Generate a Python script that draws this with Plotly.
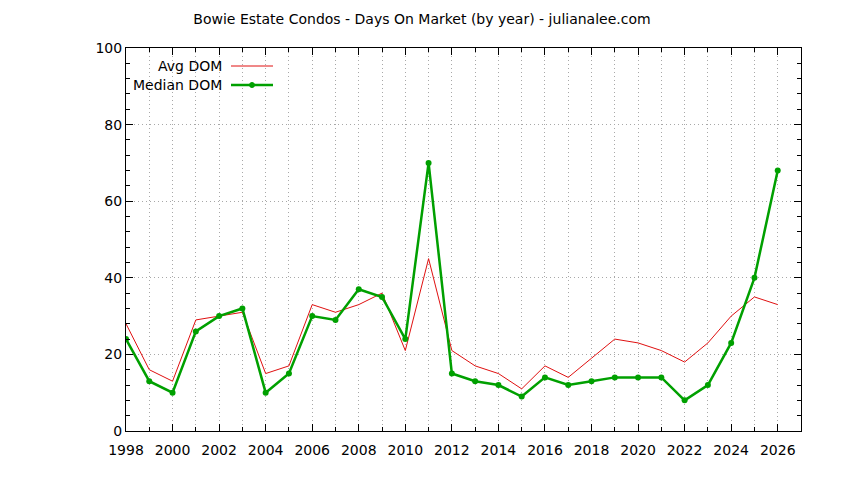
import plotly.graph_objects as go

years = list(range(1998, 2027))
avg_dom = [28, 16, 13, 29, 30, 31, 15, 17, 33, 31, 33, 36, 21, 45, 21, 17, 15, 11,
           17, 14, 19, 24, 23, 21, 18, 23, 30, 35, 33]
median_dom = [24, 13, 10, 26, 30, 32, 10, 15, 30, 29, 37, 35, 24, 70, 15, 13, 12, 9,
              14, 12, 13, 14, 14, 14, 8, 12, 23, 40, 68]

title = "Bowie Estate Condos - Days On Market (by year) - julianalee.com"
font = dict(family="DejaVu Sans", size=14, color="black")
red = "#e01010"
green = "#00a000"
gridcol = "#a8a8a8"

fig = go.Figure()
fig.add_trace(go.Scatter(x=years, y=avg_dom, mode="lines", name="Avg DOM",
                         line=dict(color=red, width=1)))
fig.add_trace(go.Scatter(x=years, y=median_dom, mode="lines+markers", name="Median DOM",
                         line=dict(color=green, width=2.5),
                         marker=dict(color=green, size=6)))

# gnuplot-style legend: text on the left, sample on the right
for i, (lab, col, w, mk) in enumerate([("Avg DOM", red, 1, False),
                                        ("Median DOM", green, 2.5, True)]):
    yy = 66 + 19 * i
    fig.add_annotation(text=lab, xref="paper", yref="paper",
                       x=(224 - 126) / 675, y=(431 - yy) / 383,
                       xanchor="right", yanchor="middle", showarrow=False, font=font)
    fig.add_shape(type="line", xref="paper", yref="paper",
                  x0=(231 - 126) / 675, x1=(273 - 126) / 675,
                  y0=(431 - yy) / 383, y1=(431 - yy) / 383,
                  line=dict(color=col, width=w))
    if mk:
        fig.add_shape(type="circle", xref="paper", yref="paper",
                      x0=(249.5 - 126) / 675, x1=(254.5 - 126) / 675,
                      y0=(431 - yy - 2.5) / 383, y1=(431 - yy + 2.5) / 383,
                      fillcolor=col, line=dict(color=col, width=1))

grid = dict(showgrid=True, gridcolor=gridcol, griddash="1px,3px", gridwidth=1)

fig.update_layout(
    width=844, height=480,
    margin=dict(l=126, r=43, t=48, b=49),
    paper_bgcolor="white", plot_bgcolor="white",
    font=font, showlegend=False,
    title=dict(text=title, x=0.5, xanchor="center", y=1 - 19 / 480, yanchor="middle",
               font=font),
    xaxis=dict(range=[1998, 2027], tickmode="linear", tick0=1998, dtick=2,
               ticks="inside", ticklen=7, tickcolor="black", mirror="ticks",
               showline=True, linecolor="black", linewidth=1, ticklabelstandoff=6,
               zeroline=False, tickfont=font, **grid,
               minor=dict(dtick=1, tick0=1998, ticks="inside", ticklen=4, tickcolor="black",
                          showgrid=True, gridcolor=gridcol, griddash="1px,3px")),
    yaxis=dict(range=[0, 100], tickmode="linear", tick0=0, dtick=20,
               ticks="inside", ticklen=7, tickcolor="black", mirror="ticks",
               showline=True, linecolor="black", linewidth=1,
               zeroline=False, tickfont=font, **grid,
               minor=dict(dtick=4, tick0=0, ticks="inside", ticklen=4, tickcolor="black",
                          showgrid=False)),
)

fig.write_html("out.html", config={"displayModeBar": False},
               post_script="document.body.style.margin='0';")
